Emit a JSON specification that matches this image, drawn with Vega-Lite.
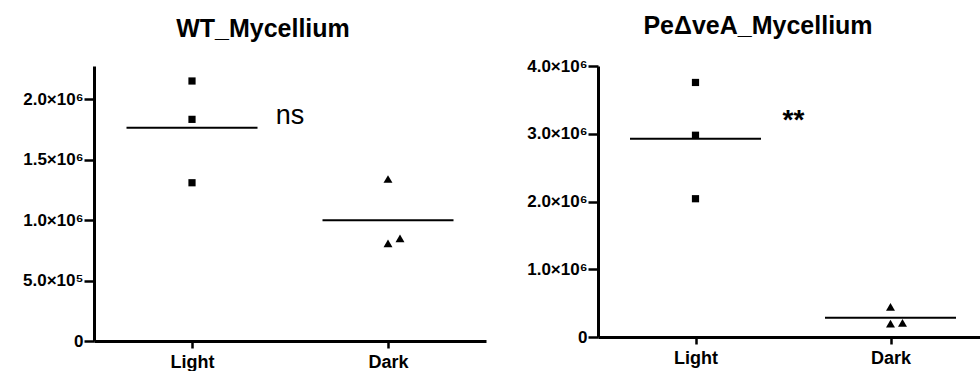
{
  "$schema": "https://vega.github.io/schema/vega-lite/v6.json",
  "background": "white",
  "padding": {"left": 22, "top": 14, "right": 0, "bottom": 0},
  "spacing": 40,
  "config": {
    "view": {"stroke": null},
    "font": "Liberation Sans",
    "axis": {
      "domainColor": "black", "domainWidth": 3, "tickColor": "black", "tickWidth": 2.5,
      "grid": false, "labelColor": "black", "labelFont": "Liberation Sans", "labelFontWeight": "bold", "title": null
    },
    "axisY": {"tickSize": 10, "labelPadding": 1, "labelFontSize": 17},
    "axisX": {"tickSize": 7, "labelPadding": 5, "labelFontSize": 18, "labelAngle": 0},
    "title": {"font": "Liberation Sans", "fontSize": 25, "fontWeight": "bold", "color": "black", "anchor": "middle", "frame": "group", "baseline": "alphabetic", "dx": -27}
  },
  "datasets": {
    "wt": [
      {"cond": "Light", "value": 2149000, "jit": 0},
      {"cond": "Light", "value": 1832000, "jit": 0},
      {"cond": "Light", "value": 1308000, "jit": 0},
      {"cond": "Dark", "value": 1339000, "jit": 0},
      {"cond": "Dark", "value": 807000, "jit": 0},
      {"cond": "Dark", "value": 849000, "jit": 1}
    ],
    "ve": [
      {"cond": "Light", "value": 3757000, "jit": 0},
      {"cond": "Light", "value": 2978000, "jit": 0},
      {"cond": "Light", "value": 2041000, "jit": 0},
      {"cond": "Dark", "value": 444000, "jit": 0},
      {"cond": "Dark", "value": 197000, "jit": 0},
      {"cond": "Dark", "value": 207000, "jit": 1}
    ]
  },
  "hconcat": [
    {
      "title": {"text": "WT_Mycellium", "offset": 24},
      "width": 392,
      "height": 275,
      "layer": [
        {
          "data": {"name": "wt"},
          "mark": {"type": "point", "filled": true, "opacity": 1, "color": "black"},
          "encoding": {
            "x": {"field": "cond", "type": "nominal", "sort": ["Light", "Dark"], "scale": {"type": "point", "padding": 0.5, "domain": ["Light", "Dark"]}, "axis": {}},
            "xOffset": {"field": "jit", "type": "quantitative", "scale": {"domain": [0, 1], "range": [0, 12]}},
            "y": {"field": "value", "type": "quantitative", "scale": {"domain": [0, 2273000], "nice": false}, "axis": {"values": [0, 500000, 1000000, 1500000, 2000000], "labelExpr": "datum.value >= 1000000 ? format(datum.value / 1000000, '.1f') + '×10⁶' : datum.value > 0 ? format(datum.value / 100000, '.1f') + '×10⁵' : '0'"}},
            "shape": {"field": "cond", "type": "nominal", "scale": {"domain": ["Light", "Dark"], "range": ["square", "triangle-up"]}, "legend": null},
            "size": {"field": "cond", "type": "nominal", "scale": {"domain": ["Light", "Dark"], "range": [52, 80]}, "legend": null}
          }
        },
        {
          "data": {"name": "wt"},
          "mark": {"type": "tick", "color": "black", "size": 131, "thickness": 2, "opacity": 1},
          "encoding": {
            "x": {"field": "cond", "type": "nominal", "sort": ["Light", "Dark"]},
            "y": {"aggregate": "mean", "field": "value", "type": "quantitative"}
          }
        },
        {
          "data": {"values": [{"cond": "Light", "value": 1790000, "label": "ns"}]},
          "mark": {"type": "text", "dx": 98, "align": "center", "baseline": "alphabetic", "fontSize": 27, "font": "Liberation Sans", "color": "black"},
          "encoding": {
            "x": {"field": "cond", "type": "nominal", "sort": ["Light", "Dark"]},
            "y": {"field": "value", "type": "quantitative"},
            "text": {"field": "label"}
          }
        }
      ]
    },
    {
      "title": {"text": "PeΔveA_Mycellium", "offset": 18, "dx": -35},
      "width": 390,
      "height": 271,
      "layer": [
        {
          "data": {"name": "ve"},
          "mark": {"type": "point", "filled": true, "opacity": 1, "color": "black"},
          "encoding": {
            "x": {"field": "cond", "type": "nominal", "sort": ["Light", "Dark"], "scale": {"type": "point", "padding": 0.5, "domain": ["Light", "Dark"]}, "axis": {}},
            "xOffset": {"field": "jit", "type": "quantitative", "scale": {"domain": [0, 1], "range": [0, 12]}},
            "y": {"field": "value", "type": "quantitative", "scale": {"domain": [0, 4000000], "nice": false}, "axis": {"values": [0, 1000000, 2000000, 3000000, 4000000], "labelExpr": "datum.value >= 1000000 ? format(datum.value / 1000000, '.1f') + '×10⁶' : datum.value > 0 ? format(datum.value / 100000, '.1f') + '×10⁵' : '0'"}},
            "shape": {"field": "cond", "type": "nominal", "scale": {"domain": ["Light", "Dark"], "range": ["square", "triangle-up"]}, "legend": null},
            "size": {"field": "cond", "type": "nominal", "scale": {"domain": ["Light", "Dark"], "range": [52, 80]}, "legend": null}
          }
        },
        {
          "data": {"name": "ve"},
          "mark": {"type": "tick", "color": "black", "size": 131, "thickness": 2, "opacity": 1},
          "encoding": {
            "x": {"field": "cond", "type": "nominal", "sort": ["Light", "Dark"]},
            "y": {"aggregate": "mean", "field": "value", "type": "quantitative"}
          }
        },
        {
          "data": {"values": [{"cond": "Light", "value": 3070000, "label": "**"}]},
          "mark": {"type": "text", "dx": 98, "align": "center", "baseline": "alphabetic", "fontSize": 28, "fontWeight": "bold", "font": "Liberation Sans", "color": "black"},
          "encoding": {
            "x": {"field": "cond", "type": "nominal", "sort": ["Light", "Dark"]},
            "y": {"field": "value", "type": "quantitative"},
            "text": {"field": "label"}
          }
        }
      ]
    }
  ]
}
